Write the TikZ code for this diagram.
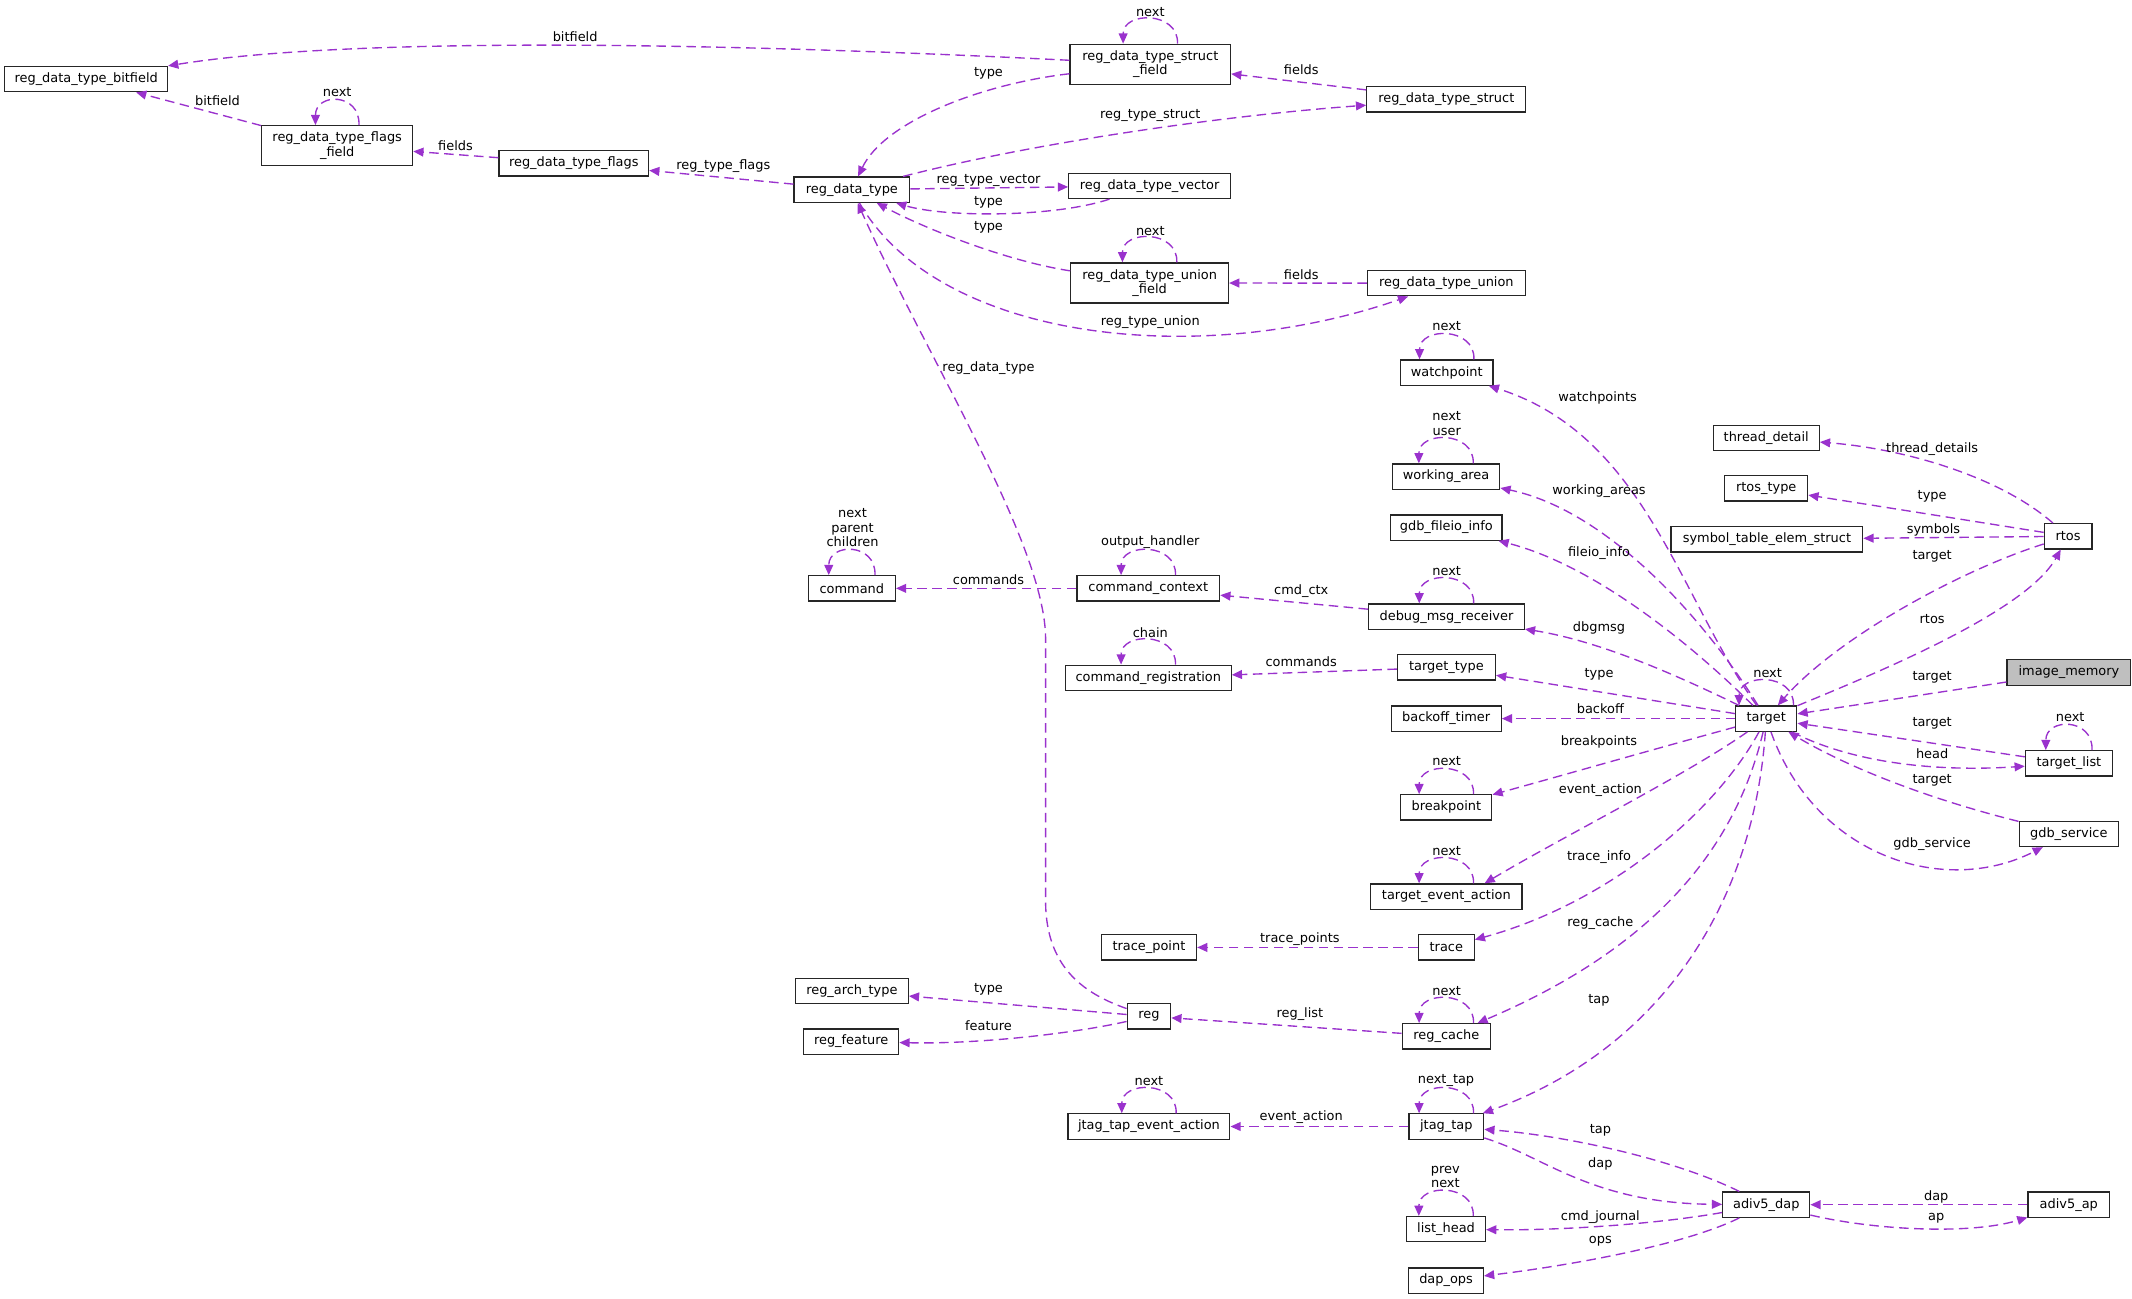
\documentclass[tikz,border=0pt]{standalone}
\usepackage{fontspec}
\usetikzlibrary{arrows.meta,calc}
\newfontfamily\dvs{DejaVu Sans}
\definecolor{purp}{HTML}{9A32CD}
\definecolor{boxgray}{HTML}{BFBFBF}
\newcommand\lblfont{\dvs\fontsize{9.5pt}{10.7pt}\selectfont}
\newcommand\doxloop[2]{\draw[conn] ($(#1.north)+(#2,0)$) .. controls +(1,-24) and +(0,-24) .. ($(#1.north)+(-#2,0)$);}
\begin{document}
\begin{tikzpicture}[x=1pt,y=-1pt,
  box/.style={draw=black!85, line width=0.9pt, fill=white, minimum height=18.6pt, inner sep=0pt, font=\lblfont},
  box2/.style={box, minimum height=29.5pt, align=center},
  lab/.style={font=\lblfont, inner sep=0pt, text=black, align=center},
  conn/.style={draw=purp, line width=1pt, dash pattern=on 7pt off 4pt, -{Triangle[length=7.5pt,width=6.5pt]}}]
\useasboundingbox (0,0) rectangle (1568,955.3);
% ---------- nodes ----------
\node[box, minimum width=120pt] (bf) at (63.4,58.2) {reg\_data\_type\_bitfield};
\node[box2, minimum width=111pt] (ff) at (248,107.2) {reg\_data\_type\_flags\\\_field};
\node[box, minimum width=110pt] (flags) at (422,120.1) {reg\_data\_type\_flags};
\node[box, minimum width=85pt] (rdt) at (626.5,139.5) {reg\_data\_type};
\node[box2, minimum width=118pt] (sf) at (846,47.3) {reg\_data\_type\_struct\\\_field};
\node[box, minimum width=117pt] (struct) at (1063.7,73.1) {reg\_data\_type\_struct};
\node[box, minimum width=119pt] (vec) at (845.5,136.7) {reg\_data\_type\_vector};
\node[box2, minimum width=116pt] (uf) at (845.5,208.1) {reg\_data\_type\_union\\\_field};
\node[box, minimum width=116pt] (union) at (1063.7,208.3) {reg\_data\_type\_union};
\node[box, minimum width=68pt] (wp) at (1064,274) {watchpoint};
\node[box, minimum width=78pt] (td) at (1299,322) {thread\_detail};
\node[box, minimum width=79pt] (wa) at (1063.5,350.5) {working\_area};
\node[box, minimum width=61pt] (rtt) at (1299,359.2) {rtos\_type};
\node[box, minimum width=82pt] (gfi) at (1063.7,388) {gdb\_fileio\_info};
\node[box, minimum width=141pt] (ste) at (1299.5,396.6) {symbol\_table\_elem\_struct};
\node[box, minimum width=35pt] (rtos) at (1521,394.4) {rtos};
\node[box, minimum width=114.5pt] (dmr) at (1063.8,453.5) {debug\_msg\_receiver};
\node[box, minimum width=72pt] (tt) at (1063.8,490.8) {target\_type};
\node[box, minimum width=91pt, fill=boxgray] (im) at (1521.6,494.6) {image\_memory};
\node[box, minimum width=45pt] (target) at (1299,528.5) {target};
\node[box, minimum width=81pt] (bt) at (1063.6,528.5) {backoff\_timer};
\node[box, minimum width=64pt] (tl) at (1521.6,561.4) {target\_list};
\node[box, minimum width=67pt] (bp) at (1063.7,593.8) {breakpoint};
\node[box, minimum width=73pt] (gs) at (1521.5,613.3) {gdb\_service};
\node[box, minimum width=111.4pt] (tea) at (1063.7,659.4) {target\_event\_action};
\node[box, minimum width=41pt] (trace) at (1063.7,696.8) {trace};
\node[box, minimum width=70pt] (tp) at (845,696.8) {trace\_point};
\node[box, minimum width=83pt] (rat) at (626.5,729) {reg\_arch\_type};
\node[box, minimum width=32pt] (reg) at (845,747.5) {reg};
\node[box, minimum width=70pt] (rf) at (626,766) {reg\_feature};
\node[box, minimum width=65pt] (rc) at (1063.7,762.2) {reg\_cache};
\node[box, minimum width=119pt] (jtae) at (845,828.5) {jtag\_tap\_event\_action};
\node[box, minimum width=55pt] (jt) at (1063.7,828.5) {jtag\_tap};
\node[box, minimum width=64pt] (ad) at (1299,886) {adiv5\_dap};
\node[box, minimum width=60pt] (ap) at (1521.5,886) {adiv5\_ap};
\node[box, minimum width=58pt] (lh) at (1063.5,904) {list\_head};
\node[box, minimum width=55pt] (dops) at (1063.5,941.8) {dap\_ops};
\node[box, minimum width=64pt] (cmd) at (626.5,432.7) {command};
\node[box, minimum width=105pt] (cc) at (844.5,432.7) {command\_context};
\node[box, minimum width=122pt] (cr) at (844.5,498.5) {command\_registration};
% ---------- self loops ----------
\doxloop{ff}{16}
\doxloop{sf}{20}
\doxloop{uf}{20}
\doxloop{wp}{20}
\doxloop{wa}{20}
\doxloop{cmd}{17}
\doxloop{cc}{20}
\doxloop{dmr}{20}
\doxloop{cr}{20}
\doxloop{target}{20}
\doxloop{tl}{17}
\doxloop{bp}{20}
\doxloop{tea}{20}
\doxloop{rc}{20}
\doxloop{jtae}{20}
\doxloop{jt}{20}
\doxloop{lh}{20}
\node[lab] (lp1) at (248,68) {next};
\node[lab] (lp2) at (846,8.6) {next};
\node[lab] (lp3) at (846,169.7) {next};
\node[lab] (lp4) at (1064,240) {next};
\node[lab] (lp5) at (1064,311.7) {next\\user};
\node[lab] (lp6) at (627,388) {next\\parent\\children};
\node[lab] (lp7) at (846,398.8) {output\_handler};
\node[lab] (lp8) at (1064,420) {next};
\node[lab] (lp9) at (846,465) {chain};
\node[lab] (lp10) at (1300,495) {next};
\node[lab] (lp11) at (1522.5,527.5) {next};
\node[lab] (lp12) at (1064,560) {next};
\node[lab] (lp13) at (1064,625.7) {next};
\node[lab] (lp14) at (1064,728.7) {next};
\node[lab] (lp15) at (845,795) {next};
\node[lab] (lp16) at (1063.5,795) {next\_tap};
\node[lab] (lp17) at (1063,865.5) {prev\\next};
% ---------- reg_data_type cluster ----------
\draw[conn] (sf) .. controls (500,30) and (250,28) .. (bf);
\node[lab] (e1) at (423,27) {bitfield};
\draw[conn] (ff) -- (bf);
\node[lab] (e2) at (160,74) {bitfield};
\draw[conn] (flags) -- (ff);
\node[lab] (e3) at (335,107) {fields};
\draw[conn] (rdt) -- (flags);
\node[lab] (e4) at (532,122) {reg\_type\_flags};
\draw[conn] (sf) .. controls (720,62) and (650,90) .. (rdt);
\node[lab] (e5) at (727,54) {type};
\draw[conn] (struct) -- (sf);
\node[lab] (e6) at (957,51) {fields};
\draw[conn] (rdt) .. controls (760,105) and (900,85) .. (struct);
\node[lab] (e7) at (846,85) {reg\_type\_struct};
\draw[conn] (rdt) -- (vec);
\node[lab] (e8) at (727,133) {reg\_type\_vector};
\draw[conn] (vec) .. controls (775,160) and (695,160) .. (rdt);
\node[lab] (e9) at (727,148.5) {type};
\draw[conn] (uf) .. controls (740,192) and (680,168) .. (rdt);
\node[lab] (e10) at (727,167) {type};
\draw[conn] (union) -- (uf);
\node[lab] (e11) at (957,202) {fields};
\draw[conn] (rdt) .. controls (690,250) and (880,272) .. (union);
\node[lab] (e12) at (846,237) {reg\_type\_union};
\draw[conn] (reg) .. controls (795,730) and (770,710) .. (769,665) -- (769,470) .. controls (769,400) and (680,260) .. (rdt);
\node[lab] (e13) at (727,271) {reg\_data\_type};
% ---------- target fan ----------
\draw[conn] (target) .. controls (1235,440) and (1210,320) .. (wp);
\node[lab] (e14) at (1175,293) {watchpoints};
\draw[conn] (target) .. controls (1250,450) and (1180,375) .. (wa);
\node[lab] (e15) at (1176,361) {working\_areas};
\draw[conn] (target) .. controls (1240,470) and (1170,415) .. (gfi);
\node[lab] (e16) at (1176,407) {fileio\_info};
\draw[conn] (target) .. controls (1240,500) and (1180,472) .. (dmr);
\node[lab] (e17) at (1176,462) {dbgmsg};
\draw[conn] (target) -- (tt);
\node[lab] (e18) at (1176,496) {type};
\draw[conn] (target) -- (bt);
\node[lab] (e19) at (1177,521) {backoff};
\draw[conn] (target) .. controls (1220,550) and (1150,570) .. (bp);
\node[lab] (e20) at (1176,546) {breakpoints};
\draw[conn] (target) .. controls (1240,570) and (1150,615) .. ([xshift=-28pt]tea.north east);
\node[lab] (e21) at (1177,581) {event\_action};
\draw[conn] (target) .. controls (1260,600) and (1180,665) .. (trace);
\node[lab] (e22) at (1176,630) {trace\_info};
\draw[conn] (target) .. controls (1275,630) and (1210,700) .. (rc);
\node[lab] (e23) at (1177,679) {reg\_cache};
\draw[conn] (target) .. controls (1290,660) and (1225,770) .. (jt);
\node[lab] (e24) at (1176,736) {tap};
% ---------- rtos / right side ----------
\draw[conn] (rtos) .. controls (1470,350) and (1400,330) .. (td);
\node[lab] (e25) at (1421,330) {thread\_details};
\draw[conn] (rtos) -- (rtt);
\node[lab] (e26) at (1421,365) {type};
\draw[conn] (rtos) -- (ste);
\node[lab] (e27) at (1422,390) {symbols};
\draw[conn] (rtos) .. controls (1440,420) and (1350,470) .. (target);
\node[lab] (e28) at (1421,409) {target};
\draw[conn] (target) .. controls (1380,495) and (1490,450) .. (rtos);
\node[lab] (e29) at (1421,455) {rtos};
\draw[conn] (im) -- (target);
\node[lab] (e30) at (1421,498) {target};
\draw[conn] (tl) -- (target);
\node[lab] (e31) at (1421,532) {target};
\draw[conn] (target) .. controls (1360,560) and (1420,568) .. (tl);
\node[lab] (e32) at (1421,554) {head};
\draw[conn] (gs) .. controls (1420,588) and (1360,565) .. (target);
\node[lab] (e33) at (1421,574) {target};
\draw[conn] (target) .. controls (1335,630) and (1430,660) .. (gs);
\node[lab] (e34) at (1421,621) {gdb\_service};
% ---------- left middle ----------
\draw[conn] (cc) -- (cmd);
\node[lab] (e36) at (727,426.6) {commands};
\draw[conn] (dmr) -- (cc);
\node[lab] (e37) at (957,434.6) {cmd\_ctx};
\draw[conn] (tt) -- (cr);
\node[lab] (e38) at (957,487) {commands};
\draw[conn] (trace) -- (tp);
\node[lab] (e39) at (956,690.5) {trace\_points};
\draw[conn] (reg) -- (rat);
\node[lab] (e40) at (727,727.6) {type};
\draw[conn] (reg) .. controls (790,760) and (720,768) .. (rf);
\node[lab] (e41) at (727,754.6) {feature};
\draw[conn] (rc) -- (reg);
\node[lab] (e42) at (956,746) {reg\_list};
\draw[conn] (jt) -- (jtae);
\node[lab] (e43) at (957,821.6) {event\_action};
% ---------- adiv5 ----------
\draw[conn] (ad) .. controls (1230,852) and (1150,835) .. (jt);
\node[lab] (e44) at (1177,831) {tap};
\draw[conn] (jt) .. controls (1135,850) and (1170,885) .. (ad);
\node[lab] (e45) at (1177,856) {dap};
\draw[conn] (ad) .. controls (1220,900) and (1150,905) .. (lh);
\node[lab] (e46) at (1177,895) {cmd\_journal};
\draw[conn] (ad) .. controls (1240,915) and (1160,930) .. (dops);
\node[lab] (e47) at (1177,913) {ops};
\draw[conn] (ap) -- (ad);
\node[lab] (e48) at (1424,880) {dap};
\draw[conn] (ad) .. controls (1380,905) and (1450,908) .. (ap);
\node[lab] (e49) at (1424,896) {ap};
\end{tikzpicture}
\end{document}
